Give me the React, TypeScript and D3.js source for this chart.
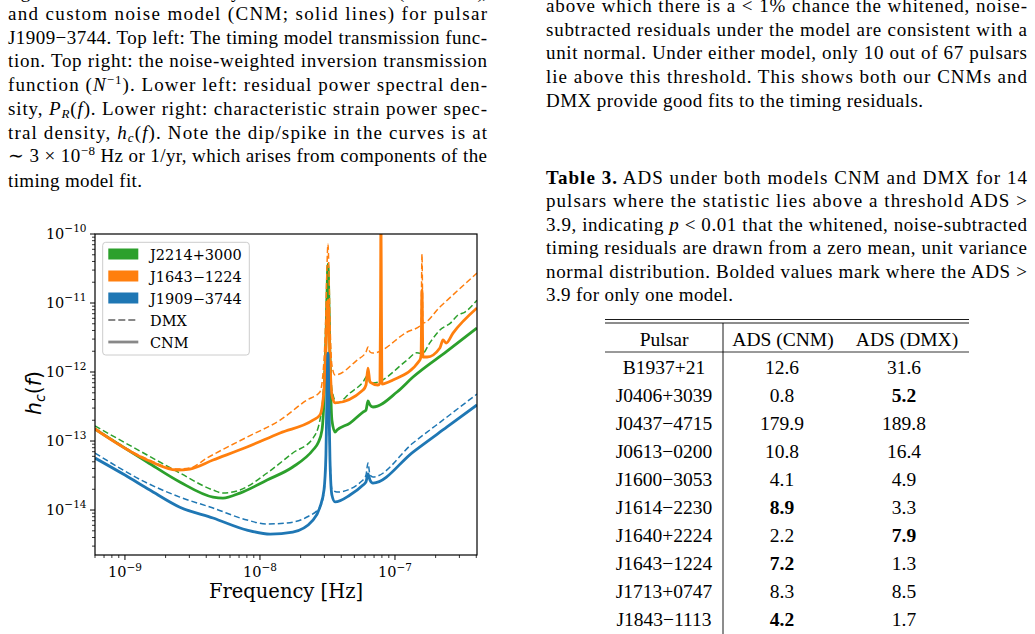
import React from "react";
import * as d3 from "d3";

type Pt = [number, number];

// axis ranges (Hz, h_c)
const freqRange: [number, number] = [6.0e-10, 4.05e-7];
const hcRange: [number, number] = [2.23e-15, 1e-10];

// J2214+3000
const j2214Cnm: Pt[] = [
  [6.0e-10, 1.49e-13], [1.46e-9, 4.97e-14], [2.55e-9, 2.55e-14], [4.49e-9, 1.54e-14],
  [5.32e-9, 1.49e-14], [7.11e-9, 1.76e-14], [1.13e-8, 2.72e-14], [1.75e-8, 4.2e-14],
  [2.47e-8, 7.41e-14], [2.69e-8, 9.35e-14], [2.88e-8, 1.44e-13], [2.98e-8, 3.93e-13],
  [3.08e-8, 2.91e-12], [3.13e-8, 1.1e-11], [3.19e-8, 3.67e-11], [3.24e-8, 1.1e-11],
  [3.3e-8, 1.49e-12], [3.41e-8, 2.01e-13], [3.6e-8, 1.35e-13], [3.72e-8, 1.44e-13],
  [4.64e-8, 1.82e-13], [5.8e-8, 2.63e-13], [6.1e-8, 2.81e-13], [6.31e-8, 3.8e-13],
  [6.53e-8, 3.33e-13], [6.87e-8, 3.11e-13], [1.035e-7, 5.13e-13], [1.36e-7, 8.47e-13],
  [2.43e-7, 2.01e-12], [4.05e-7, 4.34e-12],
];
const j2214Dmx: Pt[] = [
  [6.0e-10, 1.65e-13], [1.46e-9, 6.27e-14], [2.55e-9, 3.44e-14], [4.49e-9, 1.95e-14],
  [5.32e-9, 1.76e-14], [7.11e-9, 1.95e-14], [1.13e-8, 3.44e-14], [1.75e-8, 6.7e-14],
  [2.47e-8, 1.1e-13], [2.78e-8, 2.01e-13], [2.98e-8, 7.66e-13], [3.08e-8, 4.06e-12],
  [3.13e-8, 1.54e-11], [3.19e-8, 3.67e-11], [3.24e-8, 1.54e-11], [3.3e-8, 2.91e-12],
  [3.41e-8, 5.48e-13], [3.72e-8, 3.56e-13], [4.64e-8, 4.97e-13], [5.8e-8, 7.16e-13],
  [6.31e-8, 9.05e-13], [6.53e-8, 6.93e-13], [6.87e-8, 6.93e-13], [1.23e-7, 1.49e-12],
  [1.45e-7, 1.9e-12], [1.6e-7, 1.85e-12], [1.8e-7, 2.6e-12], [2.15e-7, 4.06e-12],
  [2.6e-7, 5.2e-12], [2.9e-7, 6.6e-12], [3.3e-7, 7.4e-12], [4.05e-7, 1.1e-11],
];

// J1643-1224
const j1643Cnm: Pt[] = [
  [6.0e-10, 1.49e-13], [1.46e-9, 5.31e-14], [2.43e-9, 3.8e-14], [3.03e-9, 3.93e-14],
  [4.49e-9, 5.31e-14], [8.02e-9, 8.19e-14], [1.41e-8, 1.31e-13], [2.47e-8, 2.01e-13],
  [2.78e-8, 2.38e-13], [2.98e-8, 5.48e-13], [3.08e-8, 2.08e-12], [3.13e-8, 5.67e-12],
  [3.19e-8, 1.1e-11], [3.24e-8, 5.67e-12], [3.3e-8, 1.49e-12], [3.41e-8, 4.65e-13],
  [3.6e-8, 3.56e-13], [5.8e-8, 5.48e-13], [6.1e-8, 6.48e-13], [6.31e-8, 1.14e-12],
  [6.53e-8, 7.16e-13], [7.48e-8, 6.48e-13], [7.74e-8, 6.93e-13], [7.82e-8, 1.1e-11],
  [7.87e-8, 2.0e-10], [7.93e-8, 1.1e-11], [8.01e-8, 6.7e-13], [9.66e-8, 7.66e-13],
  [1.53e-7, 1.49e-12], [1.56e-7, 1.76e-12], [1.585e-7, 1.54e-11], [1.61e-7, 1.65e-12],
  [1.73e-7, 1.65e-12], [2.15e-7, 2.23e-12], [2.27e-7, 2.91e-12], [2.39e-7, 2.63e-12],
  [2.69e-7, 3.67e-12], [4.05e-7, 8.47e-12],
];
const j1643Dmx: Pt[] = [
  [6.0e-10, 1.54e-13], [1.46e-9, 5.48e-14], [2.43e-9, 3.93e-14], [3.03e-9, 4.06e-14],
  [4.05e-9, 5.67e-14], [8.02e-9, 1.14e-13], [1.41e-8, 2.01e-13], [2.23e-8, 3.93e-13],
  [2.78e-8, 5.13e-13], [2.98e-8, 1.49e-12], [3.08e-8, 7.92e-12], [3.13e-8, 3.01e-11],
  [3.19e-8, 7.16e-11], [3.24e-8, 3.01e-11], [3.3e-8, 5.67e-12], [3.41e-8, 1.26e-12],
  [3.6e-8, 9.05e-13], [5.24e-8, 1.49e-12], [6.1e-8, 1.95e-12], [6.31e-8, 2.3e-12],
  [6.53e-8, 1.95e-12], [6.87e-8, 1.88e-12], [1.23e-7, 3.8e-12], [1.56e-7, 4.8e-12],
  [1.585e-7, 5.13e-11], [1.61e-7, 5.13e-12], [2.15e-7, 8.75e-12], [4.05e-7, 2.72e-11],
];

// J1909-3744
const j1909Cnm: Pt[] = [
  [6.0e-10, 5.67e-14], [1.0e-9, 3.21e-14], [1.53e-9, 1.95e-14], [2.55e-9, 1.1e-14],
  [4.49e-9, 7.66e-15], [8.02e-9, 5.13e-15], [1.19e-8, 4.49e-15], [1.75e-8, 4.8e-15],
  [2.47e-8, 7.16e-15], [2.78e-8, 1.1e-14], [2.98e-8, 1.95e-14], [3.08e-8, 6.27e-14],
  [3.13e-8, 3.93e-13], [3.19e-8, 1.88e-12], [3.24e-8, 3.93e-13], [3.3e-8, 5.31e-14],
  [3.41e-8, 1.65e-14], [3.6e-8, 1.31e-14], [4.64e-8, 1.65e-14], [5.8e-8, 2.3e-14],
  [6.1e-8, 2.55e-14], [6.31e-8, 3.33e-14], [6.53e-8, 2.72e-14], [6.87e-8, 2.46e-14],
  [1.36e-7, 6.93e-14], [2.43e-7, 1.6e-13], [4.05e-7, 3.33e-13],
];
const j1909Dmx: Pt[] = [
  [6.0e-10, 6.7e-14], [1.46e-9, 2.46e-14], [2.55e-9, 1.54e-14], [4.49e-9, 1.07e-14],
  [8.02e-9, 7.16e-15], [1.13e-8, 6.27e-15], [1.585e-8, 6.48e-15], [2.23e-8, 7.92e-15],
  [2.78e-8, 1.1e-14], [2.98e-8, 1.82e-14], [3.08e-8, 6.0e-14], [3.13e-8, 3.5e-13],
  [3.19e-8, 1.65e-12], [3.24e-8, 3.5e-13], [3.3e-8, 6.0e-14], [3.41e-8, 2.0e-14],
  [3.72e-8, 1.82e-14], [5.8e-8, 2.72e-14], [6.1e-8, 3.21e-14], [6.31e-8, 4.8e-14],
  [6.53e-8, 3.21e-14], [6.87e-8, 3.01e-14], [1.36e-7, 9.35e-14], [2.43e-7, 2.23e-13],
  [4.05e-7, 4.8e-13],
];

const pulsarNames = ["J2214+3000", "J1643\u22121224", "J1909\u22123744"];
const pulsarColors = ["#2ca02c", "#ff7f0e", "#1f77b4"];
const cnmSeries = [j2214Cnm, j1643Cnm, j1909Cnm];
const dmxSeries = [j2214Dmx, j1643Dmx, j1909Dmx];

// Table 3
const tablePulsars = [
  "B1937+21", "J0406+3039", "J0437\u22124715", "J0613\u22120200", "J1600\u22123053",
  "J1614\u22122230", "J1640+2224", "J1643\u22121224", "J1713+0747", "J1843\u22121113",
];
const adsCnm = [12.6, 0.8, 179.9, 10.8, 4.1, 8.9, 2.2, 7.2, 8.3, 4.2];
const adsDmx = [31.6, 5.2, 189.8, 16.4, 4.9, 3.3, 7.9, 1.3, 8.5, 1.7];
const adsThreshold = 3.9;

const BODY = "Liberation Serif";
const PLOT = "DejaVu Serif";
const FS = 19;

const Line = ({ x, y, len, children }: any) => (
  <text x={x} y={y} textLength={len} lengthAdjust="spacing" fontSize={FS}>
    {children}
  </text>
);

const Chart = () => {
  const left = 95, right = 477, top = 234, bottom = 555;
  const x = d3.scaleLog().domain(freqRange).range([left, right]);
  const y = d3.scaleLog().domain(hcRange).range([bottom, top]);
  const line = d3
    .line<Pt>()
    .x((d) => x(d[0]))
    .y((d) => y(d[1]))
    .curve(d3.curveMonotoneX);

  const isDecade = (v: number) =>
    Math.abs(Math.log10(v) - Math.round(Math.log10(v))) < 1e-6;
  const xTicks = x.ticks();
  const yTicks = y.ticks();
  const expLabel = (t: number) => "\u2212" + Math.abs(Math.round(Math.log10(t)));

  return (
    <g fontFamily={PLOT}>
      <defs>
        <clipPath id="plotClip">
          <rect x={left} y={top} width={right - left} height={bottom - top} />
        </clipPath>
      </defs>

      {/* curves */}
      <g clipPath="url(#plotClip)" fill="none">
        {pulsarColors.map((c, i) => (
          <g key={i}>
            <path d={line(dmxSeries[i]) ?? ""} stroke={c} strokeWidth={1.5} strokeDasharray="6,3" />
            <path d={line(cnmSeries[i]) ?? ""} stroke={c} strokeWidth={2.8} strokeLinejoin="round" />
          </g>
        ))}
      </g>

      {/* spines */}
      <rect x={left} y={top} width={right - left} height={bottom - top} fill="none" stroke="#000" strokeWidth={1.2} />

      {/* x ticks */}
      {xTicks.map((t, i) => {
        const major = isDecade(t);
        const px = x(t);
        return (
          <g key={i}>
            <line x1={px} x2={px} y1={bottom} y2={bottom + (major ? 5 : 3)} stroke="#000" strokeWidth={major ? 1 : 0.8} />
            {major && (
              <text x={px} y={bottom + 22} textAnchor="middle" fontSize={14.5}>
                <tspan>10</tspan>
                <tspan dy={-6.5} fontSize={10.5}>{expLabel(t)}</tspan>
              </text>
            )}
          </g>
        );
      })}

      {/* y ticks */}
      {yTicks.map((t, i) => {
        const major = isDecade(t);
        const py = y(t);
        return (
          <g key={i}>
            <line x1={left} x2={left - (major ? 5 : 3)} y1={py} y2={py} stroke="#000" strokeWidth={major ? 1 : 0.8} />
            {major && (
              <text x={left - 8.5} y={py + 4.5} textAnchor="end" fontSize={14.5}>
                <tspan>10</tspan>
                <tspan dy={-6.5} fontSize={10.5}>{expLabel(t)}</tspan>
              </text>
            )}
          </g>
        );
      })}

      {/* axis labels */}
      <text x={286} y={598} textAnchor="middle" fontSize={19.5}>
        Frequency [Hz]
      </text>
      <text transform="translate(41,393) rotate(-90)" textAnchor="middle" fontFamily="DejaVu Sans" fontSize={20.5}>
        <tspan fontStyle="italic">h</tspan>
        <tspan fontStyle="italic" fontSize={14} dy={4}>c</tspan>
        <tspan dy={-4}>(</tspan>
        <tspan fontStyle="italic">f</tspan>
        <tspan>)</tspan>
      </text>

      {/* legend */}
      <rect x={102.7} y={242.3} width={146.6} height={112.7} rx={3} fill="#fff" fillOpacity={0.8} stroke="#cccccc" strokeWidth={1} />
      {pulsarNames.map((n, i) => (
        <g key={n}>
          <rect x={108.3} y={248.5 + 22 * i} width={30} height={11} fill={pulsarColors[i]} />
          <text x={150} y={259.5 + 22 * i} fontSize={14.5}>{n}</text>
        </g>
      ))}
      <line x1={108.3} x2={138.3} y1={320} y2={320} stroke="#888" strokeWidth={2} strokeDasharray="7,3" />
      <text x={150} y={325.5} fontSize={14.5}>DMX</text>
      <line x1={108.3} x2={138.3} y1={342} y2={342} stroke="#888" strokeWidth={2.8} />
      <text x={150} y={347.5} fontSize={14.5}>CNM</text>
    </g>
  );
};

const LeftText = () => {
  const x = 8, w = 479;
  const ys = [-2, 20, 43.7, 67.4, 91.1, 114.8, 138.5, 162.2, 186.5];
  return (
    <g fontFamily={BODY}>
      <Line x={x} y={ys[0]} len={w}>Figure 4. Transmission and sensitivity curves under both DMX (dashed lines),</Line>
      <Line x={x} y={ys[1]} len={w}>and custom noise model (CNM; solid lines) for pulsar</Line>
      <Line x={x} y={ys[2]} len={w}>J1909{"\u2212"}3744. Top left: The timing model transmission func-</Line>
      <Line x={x} y={ys[3]} len={w}>tion. Top right: the noise-weighted inversion transmission</Line>
      <Line x={x} y={ys[4]} len={w}>
        <tspan>function (</tspan>
        <tspan fontStyle="italic">N</tspan>
        <tspan dy={-7} fontSize={13}>{"\u22121"}</tspan>
        <tspan dy={7}>). Lower left: residual power spectral den-</tspan>
      </Line>
      <Line x={x} y={ys[5]} len={w}>
        <tspan>sity, </tspan>
        <tspan fontStyle="italic">P</tspan>
        <tspan fontStyle="italic" fontSize={13} dy={3}>R</tspan>
        <tspan dy={-3}>(</tspan>
        <tspan fontStyle="italic">f</tspan>
        <tspan>). Lower right: characteristic strain power spec-</tspan>
      </Line>
      <Line x={x} y={ys[6]} len={w}>
        <tspan>tral density, </tspan>
        <tspan fontStyle="italic">h</tspan>
        <tspan fontStyle="italic" fontSize={13} dy={3}>c</tspan>
        <tspan dy={-3}>(</tspan>
        <tspan fontStyle="italic">f</tspan>
        <tspan>). Note the dip/spike in the curves is at</tspan>
      </Line>
      <Line x={x} y={ys[7]} len={w}>
        <tspan>{"\u223c 3 \u00d7 10"}</tspan>
        <tspan dy={-7} fontSize={13}>{"\u22128"}</tspan>
        <tspan dy={7}> Hz or 1/yr, which arises from components of the</tspan>
      </Line>
      <Line x={x} y={ys[8]} len={134}>timing model fit.</Line>
    </g>
  );
};

const RightText = () => {
  const x = 546, w = 481;
  const ys = [12, 35.7, 59.4, 83.1, 106.8];
  const cy = [183.5, 207, 230.5, 254, 277.5, 301];
  return (
    <g fontFamily={BODY}>
      <Line x={x} y={ys[0]} len={w}>{"above which there is a < 1% chance the whitened, noise-"}</Line>
      <Line x={x} y={ys[1]} len={w}>subtracted residuals under the model are consistent with a</Line>
      <Line x={x} y={ys[2]} len={w}>unit normal. Under either model, only 10 out of 67 pulsars</Line>
      <Line x={x} y={ys[3]} len={w}>lie above this threshold. This shows both our CNMs and</Line>
      <Line x={x} y={ys[4]} len={377}>DMX provide good fits to the timing residuals.</Line>

      <Line x={x} y={cy[0]} len={w}>
        <tspan fontWeight="bold">Table 3.</tspan>
        <tspan> ADS under both models CNM and DMX for 14</tspan>
      </Line>
      <Line x={x} y={cy[1]} len={w}>{"pulsars where the statistic lies above a threshold ADS >"}</Line>
      <Line x={x} y={cy[2]} len={w}>
        <tspan>3.9, indicating </tspan>
        <tspan fontStyle="italic">p</tspan>
        <tspan>{" < 0.01 that the whitened, noise-subtracted"}</tspan>
      </Line>
      <Line x={x} y={cy[3]} len={w}>timing residuals are drawn from a zero mean, unit variance</Line>
      <Line x={x} y={cy[4]} len={w}>{"normal distribution. Bolded values mark where the ADS >"}</Line>
      <Line x={x} y={cy[5]} len={187}>3.9 for only one model.</Line>
    </g>
  );
};

const Table = () => {
  const colX = [664, 782, 904];
  const rowY = (i: number) => 373.8 + 28.07 * i;
  return (
    <g fontFamily={BODY} fontSize={19.5} textAnchor="middle">
      <line x1={605} x2={969} y1={319.5} y2={319.5} stroke="#000" strokeWidth={0.9} />
      <line x1={605} x2={969} y1={323} y2={323} stroke="#000" strokeWidth={0.9} />
      <line x1={605} x2={969} y1={352} y2={352} stroke="#000" strokeWidth={0.8} />
      <line x1={723} x2={723} y1={323} y2={634} stroke="#000" strokeWidth={0.9} />
      <text x={colX[0]} y={345.5}>Pulsar</text>
      <text x={783} y={345.5}>ADS (CNM)</text>
      <text x={907} y={345.5}>ADS (DMX)</text>
      {tablePulsars.map((p, i) => {
        const a = adsCnm[i], b = adsDmx[i];
        const boldA = a > adsThreshold && b <= adsThreshold;
        const boldB = b > adsThreshold && a <= adsThreshold;
        return (
          <g key={p}>
            <text x={colX[0]} y={rowY(i)}>{p}</text>
            <text x={colX[1]} y={rowY(i)} fontWeight={boldA ? "bold" : "normal"}>{a.toFixed(1)}</text>
            <text x={colX[2]} y={rowY(i)} fontWeight={boldB ? "bold" : "normal"}>{b.toFixed(1)}</text>
          </g>
        );
      })}
    </g>
  );
};

export default function App() {
  return (
    <svg
      width={1035}
      height={634}
      style={{ position: "absolute", left: 0, top: 0, background: "#fff" }}
    >
      <rect width={1035} height={634} fill="#fff" />
      <LeftText />
      <RightText />
      <Chart />
      <Table />
    </svg>
  );
}
